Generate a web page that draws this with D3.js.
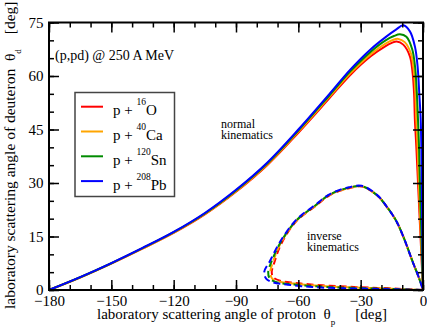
<!DOCTYPE html>
<html>
<head>
<meta charset="utf-8">
<script src="https://cdn.jsdelivr.net/npm/d3@7"></script>
<style>
  body { margin: 0; background: #fff; }
  svg text { font-family: "Times New Roman", "Liberation Serif", "DejaVu Serif", serif; white-space: pre; }
</style>
</head>
<body>
<div id="chart"></div>
<script>
// series names / colours
const nuclei = [
  {mass: "16", sym: "O", color: "#ff0000"},
  {mass: "40", sym: "Ca", color: "#ffa500"},
  {mass: "120", sym: "Sn", color: "#008b00"},
  {mass: "208", sym: "Pb", color: "#0000ff"}
];

// normal kinematics [theta_p, theta_d]
const normalO = [[-180,0],[-165,3.5],[-150,7.4],[-135,11.6],[-120,16.0],[-105,21.2],[-90,27.55],[-75,35.0],[-60,44.1],[-45,53.8],[-35,60.3],[-25,65.6],[-18,68.4],[-15,69.3],[-12.7,69.7],[-9.5,68.8],[-6.3,65.5],[-5.0,60.8],[-4.3,55.2],[-3.9,47.7],[-3.2,40],[-2.4,30],[-1.6,20],[-0.8,10],[0,0]];
const normalCa = [[-180,0],[-165,3.53],[-150,7.45],[-135,11.65],[-120,16.1],[-105,21.3],[-90,27.7],[-75,35.2],[-60,44.4],[-45,54.2],[-35,60.75],[-25,66.2],[-18,69.1],[-14.5,70.1],[-11.9,70.4],[-8.8,69.5],[-5.8,66.3],[-4.4,61.5],[-3.7,55.5],[-3.2,47.7],[-2.6,40],[-2.0,30],[-1.35,20],[-0.7,10],[0,0]];
const normalSn = [[-180,0],[-165,3.57],[-150,7.5],[-135,11.73],[-120,16.2],[-105,21.45],[-90,27.9],[-75,35.45],[-60,44.7],[-45,54.6],[-35,61.3],[-25,66.9],[-18,70.0],[-14,71.2],[-11.1,71.7],[-8,71.0],[-5.2,67.5],[-3.8,62.5],[-3.0,55.5],[-2.4,47.7],[-1.9,40],[-1.5,30],[-1.0,20],[-0.5,10],[0,0]];
const normalPb = [[-180,0],[-165,3.6],[-150,7.55],[-135,11.8],[-120,16.3],[-105,21.6],[-90,28.1],[-75,35.7],[-60,45.0],[-45,55.0],[-35,61.8],[-25,67.6],[-18,70.9],[-13,73.0],[-9.5,74.2],[-6.3,72.5],[-3.9,68.3],[-2.6,62.7],[-1.8,55.2],[-1.1,47.7],[-0.8,40],[-0.6,30],[-0.4,20],[-0.2,10],[0,0]];

// inverse kinematics (closed loop) [theta_p, theta_d]
const inverseO = [[0,0],[-2,3.5],[-4.7,7.5],[-9.5,15],[-13,19.5],[-17.5,23.4],[-22,26.5],[-29.5,29],[-37,28.3],[-44.8,26.6],[-52,23.4],[-60.8,19.4],[-68,13.2],[-71.5,7.8],[-72.8,4.9],[-71.8,3.4],[-68,2.5],[-62,2.0],[-55,1.6],[-45,1.2],[-35,0.9],[-25,0.65],[-15,0.45],[-7,0.2],[0,0]];
const inverseCa = [[0,0],[-2,3.5],[-4.7,7.5],[-9.5,15],[-13,19.5],[-17.5,23.4],[-22,26.5],[-29.5,29.05],[-37,28.4],[-44.8,26.7],[-52,23.5],[-60.8,19.5],[-68.2,13.4],[-72.2,7.9],[-73.5,4.9],[-72.6,3.2],[-69,2.3],[-62,1.8],[-55,1.4],[-45,1.0],[-35,0.75],[-25,0.55],[-15,0.35],[-7,0.15],[0,0]];
const inverseSn = [[0,0],[-2,3.5],[-4.7,7.5],[-9.5,15],[-13,19.5],[-17.5,23.4],[-22,26.5],[-29.5,29.1],[-37,28.5],[-44.8,26.8],[-52,23.6],[-60.8,19.6],[-68.3,13.6],[-72.9,8.0],[-74.5,5.0],[-73.6,3.1],[-70,2.1],[-63,1.6],[-55,1.2],[-45,0.8],[-35,0.6],[-25,0.45],[-15,0.3],[-7,0.12],[0,0]];
const inversePb = [[0,0],[-2,3.5],[-4.7,7.5],[-9.5,15],[-13,19.5],[-17.5,23.4],[-22,26.6],[-29.5,29.2],[-37,28.6],[-44.8,26.9],[-52,23.8],[-60.8,19.8],[-68.5,13.8],[-73.6,8.2],[-76.4,5.1],[-75.5,3.2],[-72,2.1],[-65,1.5],[-55,0.9],[-45,0.6],[-35,0.45],[-25,0.35],[-15,0.2],[-7,0.1],[0,0]];

const normalSets = [normalO, normalCa, normalSn, normalPb];
const inverseSets = [inverseO, inverseCa, inverseSn, inversePb];

const xMajor = d3.range(-180, 1, 30);
const xMinor = d3.range(-180, 1, 10);
const yMajor = d3.range(0, 76, 15);
const yMinor = d3.range(0, 76, 5);

const W = 427, H = 328;
const mLeft = 49, mRight = 423, mTop = 22.5, mBottom = 290;

const svg = d3.select("#chart").append("svg")
  .attr("width", W)
  .attr("height", H);

const x = d3.scaleLinear().domain([-180, 0]).range([mLeft, mRight]);
const y = d3.scaleLinear().domain([0, 75]).range([mBottom, mTop]);

// data lines
const line = d3.line()
  .x(d => x(d[0]))
  .y(d => y(d[1]))
  .curve(d3.curveCatmullRom.alpha(0.5));

const plot = svg.append("g");

normalSets.forEach((s, i) => {
  plot.append("path")
    .attr("d", line(s))
    .attr("fill", "none")
    .attr("stroke", nuclei[i].color)
    .attr("stroke-width", 2);
});

inverseSets.forEach((s, i) => {
  plot.append("path")
    .attr("d", line(s))
    .attr("fill", "none")
    .attr("stroke", nuclei[i].color)
    .attr("stroke-width", 2)
    .attr("stroke-dasharray", "7,4")
    .attr("stroke-dashoffset", i * 3);
});

// axes with inward ticks on all four sides
function drawAxis(axisFn, scale, values, size, transform, labels) {
  const g = svg.append("g")
    .attr("transform", transform)
    .call(axisFn(scale).tickValues(values).tickSize(-size).tickSizeOuter(0)
      .tickFormat(labels ? d3.format("d") : ""));
  g.attr("font-family", null).attr("font-size", null);
  g.select(".domain").remove();
  g.selectAll(".tick line").attr("stroke", "#000").attr("stroke-width", 1.5);
  g.selectAll(".tick text")
    .attr("fill", "#000")
    .style("font-size", "15px");
  return g;
}

drawAxis(d3.axisBottom, x, xMinor, 5, `translate(0,${mBottom})`, false);
const xAx = drawAxis(d3.axisBottom, x, xMajor, 10, `translate(0,${mBottom})`, true);
drawAxis(d3.axisTop, x, xMinor, 5, `translate(0,${mTop})`, false);
drawAxis(d3.axisTop, x, xMajor, 10, `translate(0,${mTop})`, false);
drawAxis(d3.axisLeft, y, yMinor, 5, `translate(${mLeft},0)`, false);
const yAx = drawAxis(d3.axisLeft, y, yMajor, 10, `translate(${mLeft},0)`, true);
drawAxis(d3.axisRight, y, yMinor, 5, `translate(${mRight},0)`, false);
drawAxis(d3.axisRight, y, yMajor, 10, `translate(${mRight},0)`, false);

xAx.selectAll(".tick text").attr("y", 5.5);
yAx.selectAll(".tick text").attr("x", -5.5);

// frame
svg.append("rect")
  .attr("x", mLeft).attr("y", mTop)
  .attr("width", mRight - mLeft).attr("height", mBottom - mTop)
  .attr("fill", "none").attr("stroke", "#000").attr("stroke-width", 2);

// axis titles
const xt = svg.append("text")
  .attr("x", 97).attr("y", 318.5)
  .style("font-size", "15px");
xt.append("tspan").text("laboratory scattering angle of proton  θ");
xt.append("tspan").attr("dy", 6).style("font-size", "9px").text("p");
xt.append("tspan").attr("dy", -6).attr("dx", 20).text("[deg]");

const yt = svg.append("text")
  .attr("transform", "translate(15,309) rotate(-90)")
  .style("font-size", "15.5px");
yt.append("tspan").text("laboratory scattering angle of deuteron  θ");
yt.append("tspan").attr("dy", 6).style("font-size", "9px").text("d");
yt.append("tspan").attr("dy", -6).attr("dx", 15).text("[deg]");

// annotations
svg.append("text").attr("x", 55).attr("y", 59.5)
  .style("font-size", "14px").text("(p,pd) @ 250 A MeV");

svg.append("text").attr("x", 221).attr("y", 127.7)
  .style("font-size", "12px").text("normal");
svg.append("text").attr("x", 221).attr("y", 139.3)
  .style("font-size", "12px").text("kinematics");

svg.append("text").attr("x", 307).attr("y", 240)
  .style("font-size", "12px").text("inverse");
svg.append("text").attr("x", 307).attr("y", 251)
  .style("font-size", "12px").text("kinematics");

// legend
const legend = svg.append("g");
legend.append("rect")
  .attr("x", 75).attr("y", 92.5)
  .attr("width", 99.5).attr("height", 104)
  .attr("fill", "#fff").attr("stroke", "#444").attr("stroke-width", 1.5);

nuclei.forEach((n, i) => {
  const ry = 106.7 + i * 24.8;
  legend.append("line")
    .attr("x1", 81).attr("x2", 103)
    .attr("y1", ry).attr("y2", ry)
    .attr("stroke", n.color).attr("stroke-width", 2);
  const t = legend.append("text")
    .attr("x", 113).attr("y", ry + 8.5)
    .style("font-size", "15px");
  t.append("tspan").text("p + ");
  t.append("tspan").attr("dy", -10).style("font-size", "9.5px").text(n.mass);
  t.append("tspan").attr("dy", 10).text(n.sym);
});
</script>
</body>
</html>
